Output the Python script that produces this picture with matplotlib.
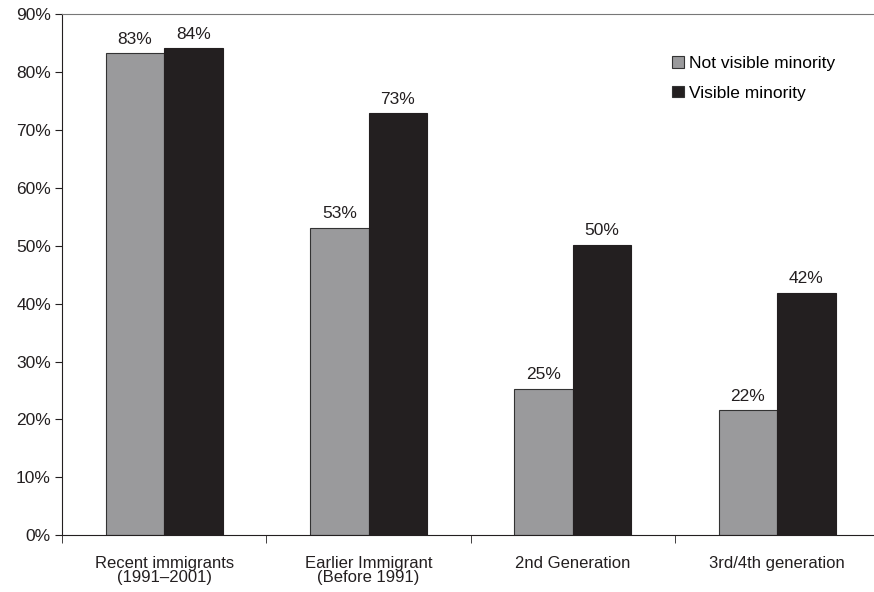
import matplotlib
matplotlib.use("Agg")
import matplotlib.pyplot as plt
import numpy as np

categories = ["Recent immigrants\n(1991\u20132001)", "Earlier Immigrant\n(Before 1991)",
              "2nd Generation", "3rd/4th generation"]
not_visible = [83.3, 53.1, 25.3, 21.6]
visible = [84.1, 72.9, 50.2, 41.9]
series_names = ["Not visible minority", "Visible minority"]

plt.rcParams["font.family"] = ["Liberation Sans", "DejaVu Sans"]

fig = plt.figure(figsize=(8.74, 5.92), dpi=100)
ax = fig.add_axes([0.071, 0.096, 0.935, 0.880])

x = np.arange(len(categories))
w = 0.286
b1 = ax.bar(x - w / 2, not_visible, w, color="#9a9a9c", edgecolor="#333333", lw=0.8,
            label=series_names[0])
b2 = ax.bar(x + w / 2, visible, w, color="#231f20", edgecolor="#231f20", lw=0.8,
            label=series_names[1])

for bars, vals in ((b1, not_visible), (b2, visible)):
    for r, v in zip(bars, vals):
        ax.text(r.get_x() + r.get_width() / 2, v + 1.1, f"{round(v)}%",
                ha="center", va="bottom", fontsize=12.5, color="#231f20")

ax.set_xlim(-0.5, len(categories) - 0.5)
ax.set_ylim(0, 90)
ax.set_yticks(np.arange(0, 91, 10))
ax.set_yticklabels([f"{t}%" for t in range(0, 91, 10)], fontsize=12.5, color="#231f20")
ax.set_xticks(x)
ax.set_xticklabels(categories, fontsize=12, color="#231f20", linespacing=0.95)
ax.tick_params(axis="x", length=0, pad=15)
ax.set_xticks(np.arange(-0.5, len(categories), 1), minor=True)
ax.tick_params(axis="x", which="minor", length=6, direction="out", color="#231f20")
ax.tick_params(axis="y", length=5, direction="out", color="#231f20", pad=3)

ax.spines["right"].set_visible(False)
ax.spines["top"].set_color("#777777")
ax.spines["left"].set_color("#231f20")
ax.spines["bottom"].set_color("#231f20")

leg = ax.legend(loc="upper right", bbox_to_anchor=(0.965, 0.95), frameon=False,
                fontsize=12.5, handlelength=0.65, handleheight=0.65, handletextpad=0.3,
                labelspacing=0.85)
for h in leg.legend_handles:
    h.set_edgecolor("#333333")

fig.savefig("out.png", dpi=100)
